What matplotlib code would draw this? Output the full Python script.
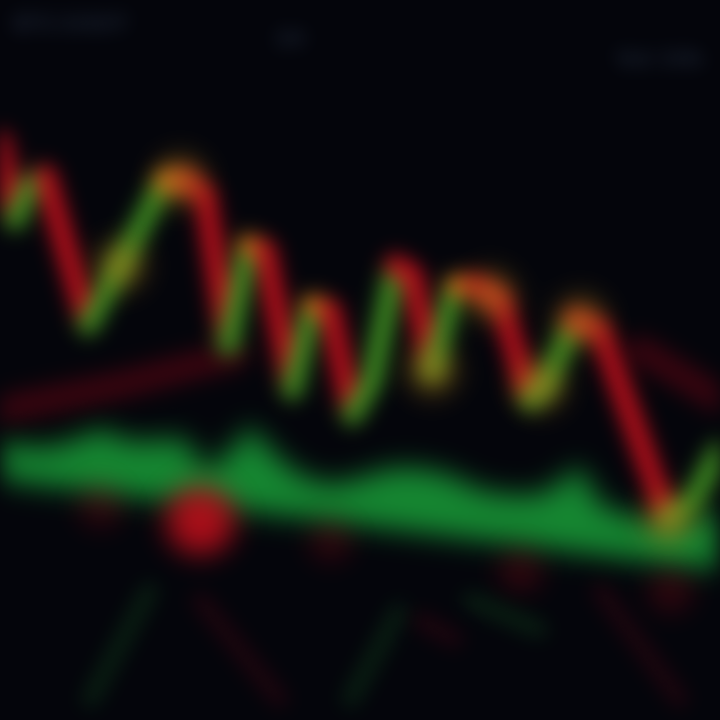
import numpy as np
import matplotlib
matplotlib.use("Agg")
import matplotlib.pyplot as plt
from matplotlib.collections import LineCollection

# price path of the main zigzag (x = bar position, y = price level)
zig_x = [0, 15, 30, 45, 88, 120, 165, 185, 205, 228, 248, 265, 292, 312, 330, 352,
         372, 395, 412, 432, 455, 475, 500, 530, 545, 575, 600, 668, 690, 720]
zig_y = [580, 500, 535, 545, 395, 455, 540, 540, 525, 375, 475, 470, 330, 415, 410, 305,
         340, 455, 445, 350, 435, 435, 420, 320, 335, 400, 390, 200, 215, 270]

# glowing turning points
hot_x = [120, 180, 432, 490, 540, 580, 668]
hot_y = [455, 540, 350, 425, 335, 400, 200]

# slow moving average (dark red)
ma_x = [0, 120, 235]
ma_y = [310, 335, 365]
ma2_x = [640, 720]
ma2_y = [370, 320]

# volume-like green band
vol_x = [0, 40, 70, 100, 130, 160, 185, 205, 230, 250, 275, 300, 330, 360, 390, 420,
         450, 480, 510, 540, 560, 580, 600, 630, 660, 690, 720]
vol_top = [280, 272, 278, 292, 278, 280, 282, 248, 268, 295, 265, 245, 235, 242, 252, 252,
           245, 230, 225, 225, 238, 255, 215, 205, 195, 200, 212]
base_x = [0, 720]
base_y = [240, 150]

# red blobs under the band
blob_x = [200, 100, 330, 520, 670]
blob_y = [200, 215, 180, 150, 130]
blob_s = [2400, 1000, 900, 1000, 1000]
blob_a = [0.9, 0.25, 0.25, 0.25, 0.25]

# faint lower-pane lines
low_g = [([90, 150], [20, 130]), ([350, 400], [20, 110]), ([470, 540], [120, 90])]
low_r = [([200, 280], [120, 20]), ([420, 455], [100, 80]), ([600, 680], [130, 20])]

# faint header labels
hdr_x = [70, 290, 660]
hdr_y = [695, 680, 660]
hdr_t = ["BTC/USDT", "1H", "Vol 24h"]


def blur(sigma):
    r = int(3 * sigma)
    k = np.exp(-0.5 * (np.arange(-r, r + 1) / sigma) ** 2)
    k /= k.sum()

    def filt(im, dpi):
        a = np.pad(im, ((r, r), (r, r), (0, 0)))
        # premultiply so transparent pixels do not bleed their colour
        a[..., :3] *= a[..., 3:4]
        tmp = np.zeros_like(a)
        for i, w in enumerate(k):
            tmp += w * np.roll(a, i - r, axis=0)
        out = np.zeros_like(a)
        for i, w in enumerate(k):
            out += w * np.roll(tmp, i - r, axis=1)
        al = out[..., 3:4]
        out[..., :3] = np.where(al > 1e-4, out[..., :3] / np.maximum(al, 1e-4), 0)
        out = np.clip(out, 0, 1)
        return out, -r, -r
    return filt


fig = plt.figure(figsize=(7.2, 7.2), dpi=100)
fig.patch.set_facecolor("#04050b")
ax = fig.add_axes([0, 0, 1, 1])
ax.set_facecolor("#04050b")
ax.set_xlim(0, 720)
ax.set_ylim(0, 720)
ax.axis("off")

# header
for x, y, t in zip(hdr_x, hdr_y, hdr_t):
    tx = ax.text(x, y, t, color="#1c2433", fontsize=15, ha="center", va="center",
                 fontweight="bold")
    tx.set_agg_filter(blur(9))

# lower pane
for xs, ys in low_g:
    l, = ax.plot(xs, ys, color="#0b2414", lw=11, solid_capstyle="round")
    l.set_agg_filter(blur(10))
for xs, ys in low_r:
    l, = ax.plot(xs, ys, color="#240710", lw=11, solid_capstyle="round")
    l.set_agg_filter(blur(10))

# moving averages
for xs, ys in [(ma_x, ma_y), (ma2_x, ma2_y)]:
    l, = ax.plot(xs, ys, color="#3a0610", lw=20, solid_capstyle="round")
    l.set_agg_filter(blur(11))

# volume band
vb = np.interp(vol_x, base_x, base_y)
band = ax.fill_between(vol_x, vb, vol_top, color="#178a33", lw=0)
band.set_agg_filter(blur(10))

# blobs
for x, y, s, a in zip(blob_x, blob_y, blob_s, blob_a):
    sc = ax.scatter([x], [y], s=s, color="#c0101c", alpha=a, lw=0)
    sc.set_agg_filter(blur(10))

# zigzag, colored by direction
pts = np.column_stack([zig_x, zig_y])
segs = [pts[i:i + 2] for i in range(len(pts) - 1)]
cols = []
for i in range(len(zig_y) - 1):
    d = zig_y[i + 1] - zig_y[i]
    if d < -5:
        cols.append("#c0101c")
    elif d > 5:
        cols.append("#3f8f22")
    else:
        cols.append("#c8701a")
lc = LineCollection(segs, colors=cols, linewidths=15, capstyle="round")
ax.add_collection(lc)
lc.set_agg_filter(blur(10))

hot = ax.scatter(hot_x, hot_y, s=800, color="#c89020", alpha=0.7, lw=0, zorder=3)
hot.set_agg_filter(blur(11))

fig.savefig("out.png", dpi=100, facecolor=fig.get_facecolor())
